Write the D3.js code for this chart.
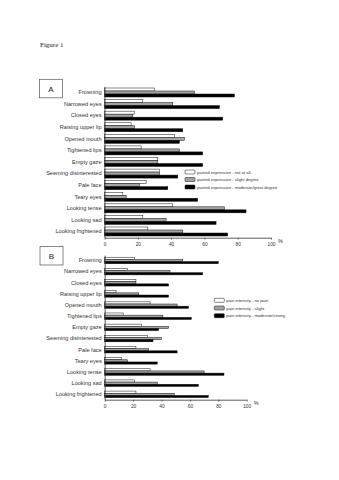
<!DOCTYPE html>
<html><head><meta charset="utf-8">
<script src="https://cdn.jsdelivr.net/npm/d3@7"></script>
<style>body{margin:0;background:#fff}svg{display:block}</style>
</head><body>
<script>
const categories = ["Frowning","Narrowed eyes","Closed eyes","Raising upper lip","Opened mouth","Tightened lips","Empty gaze","Seeming disinterested","Pale face","Teary eyes","Looking tense","Looking sad","Looking frightened"];
const seriesKeys = ["s0","s1","s2"];
// Panel A: pained expression
const aNotAtAll = [30,23,18,16,42,22,32,33,25,11,41,23,26];
const aSlight   = [54,41,17,18,48,45,32,33,21,13,72,37,47];
const aModerate = [78,69,71,47,45,59,59,44,38,56,85,67,74];
const aLegend = ["pained expression - not at all","pained expression - slight degree","pained expression - moderate/great degree"];
// Panel B: pain intensity
const bNoPain   = [21,16,22,8,32,13,26,30,22,12,32,21,22];
const bSlight   = [55,46,22,24,51,41,45,40,31,16,70,37,49];
const bModerate = [80,69,45,45,59,61,38,34,51,37,84,66,73];
const bLegend = ["pain intensity - no pain","pain intensity - slight","pain intensity - moderate/strong"];
const xTicks = [0,20,40,60,80,100];
const fills = ["#ffffff","#a3a3a3","#000000"];

const W = 339, H = 480;
const svg = d3.select("body").append("svg").attr("width",W).attr("height",H);

svg.append("text").attr("x",40).attr("y",47).attr("font-family","Liberation Serif, serif")
  .attr("font-size",7).attr("fill","#222").text("Figure 1");

function panel(cfg){
  const g = svg.append("g");
  const y = d3.scaleBand().domain(categories).range([cfg.y0,cfg.y1])
    .paddingInner(cfg.pi).paddingOuter(cfg.po);
  const ys = d3.scaleBand().domain(seriesKeys).range([0,y.bandwidth()]);
  const x = d3.scaleLinear().domain([0,100]).range([cfg.x0,cfg.x1]);
  const rows = categories.map((c,i)=>({c, v:[cfg.vals[0][i],cfg.vals[1][i],cfg.vals[2][i]]}));
  const grp = g.selectAll("g.row").data(rows).join("g").attr("transform",d=>`translate(0,${y(d.c)})`);
  grp.selectAll("rect").data(d=>d.v.map((v,k)=>({v,k}))).join("rect")
    .attr("x",x(0)).attr("y",d=>ys(seriesKeys[d.k]))
    .attr("width",d=>x(d.v)-x(0)).attr("height",ys.bandwidth())
    .attr("fill",d=>fills[d.k]).attr("stroke","#111").attr("stroke-width",0.5);
  // y axis
  const ya = g.append("g").attr("transform",`translate(${x(0)},0)`)
    .call(d3.axisLeft(y).tickSize(0).tickPadding(3));
  ya.select(".domain").attr("stroke","#333").attr("stroke-width",0.8);
  ya.selectAll("text").attr("font-family","Liberation Sans, Arial, sans-serif").attr("font-size",5.6).attr("fill","#333");
  // x axis
  const xa = g.append("g").attr("transform",`translate(0,${cfg.y1})`)
    .call(d3.axisBottom(x).tickValues(xTicks).tickSize(2).tickSizeOuter(0).tickPadding(3));
  xa.select(".domain").attr("stroke","#333").attr("stroke-width",0.8);
  xa.selectAll("line").attr("stroke","#333").attr("stroke-width",0.6);
  xa.selectAll("text").attr("font-family","Liberation Sans, Arial, sans-serif").attr("font-size",4.8).attr("fill","#333");
  g.append("text").attr("x",x(100)+7).attr("y",cfg.y1+5).attr("font-family","Liberation Sans, Arial, sans-serif")
    .attr("font-size",5.5).attr("fill","#333").text("%");
  // label box
  g.append("rect").attr("x",cfg.bx).attr("y",cfg.by).attr("width",23).attr("height",18.5)
    .attr("fill","none").attr("stroke","#555").attr("stroke-width",0.7);
  g.append("text").attr("x",cfg.bx+11.5).attr("y",cfg.by+12.5).attr("text-anchor","middle")
    .attr("font-family","Liberation Sans, Arial, sans-serif").attr("font-size",8).attr("fill","#222").text(cfg.letter);
  // legend
  const lg = g.append("g").selectAll("g").data(cfg.legend).join("g")
    .attr("transform",(d,i)=>`translate(${cfg.lx},${cfg.ly+i*cfg.ldy})`);
  lg.append("rect").attr("x",0).attr("y",-2).attr("width",10).attr("height",4).attr("rx",0.8)
    .attr("fill",(d,i)=>fills[i]).attr("stroke","#111").attr("stroke-width",0.5);
  lg.append("text").attr("x",12).attr("y",1.5).attr("font-family","Liberation Sans, Arial, sans-serif")
    .attr("font-size",4.2).attr("fill","#333").text(d=>d);
}

panel({vals:[aNotAtAll,aSlight,aModerate], legend:aLegend, letter:"A",
  y0:86.3, y1:237.7, pi:0.223, po:0.147, x0:104.5, x1:271,
  bx:39.5, by:79.3, lx:185, ly:172, ldy:7.5});
panel({vals:[bNoPain,bSlight,bModerate], legend:bLegend, letter:"B",
  y0:255.1, y1:399.7, pi:0.417, po:0.19, x0:104.7, x1:246.7,
  bx:40, by:246.5, lx:214.3, ly:300.3, ldy:7.7});
</script>
</body></html>
